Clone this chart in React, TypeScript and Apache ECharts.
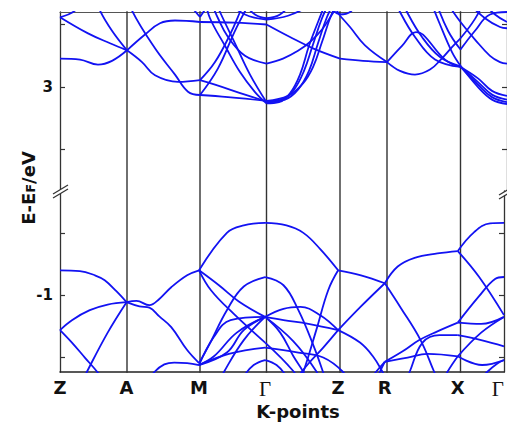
import React, { useEffect, useRef } from "react";
import * as echarts from "echarts";

// high-symmetry points (k-path distance) and labels
const kTicks = [0, 67, 140, 206.5, 280, 327, 400.5, 447];
const kLabels = ["Z", "A", "M", "Γ", "Z", "R", "X", "Γ"];

// axis ranges and ticks
const upperRange = [2.17, 3.6];
const lowerRange = [-1.616, -0.164];
const upperTicks = [2.5, 3, 3.5];
const upperLabels = [3];
const lowerTicks = [-1.5, -1, -0.5];
const lowerLabels = [-1];

// ---------- upper panel bands (conduction), [k, E] ----------
const up01 = [[0,3.228],[20,3.22],[38,3.18],[52,3.21],[67,3.294],[85,3.42],[100,3.51],[115,3.532],[140,3.52],[175,3.515],[206.5,3.50],[230,3.40],[253,3.31],[280,3.228],[303,3.21],[327,3.20],[342,3.33],[356,3.44],[363,3.42],[385,3.22],[400.5,3.161],[418,3.02],[432,2.92],[447,2.88]];
const up02 = [[0,3.558],[28,3.429],[50,3.35],[67,3.294],[82,3.20],[95,3.095],[118,3.042],[140,3.056],[155,3.02],[185,2.94],[206.5,2.885],[222,2.90],[234,2.98],[244,3.13],[253,3.34],[262,3.55],[271,3.7]];
const up03 = [[37,3.7],[40,3.611],[52,3.45],[67,3.294]];
const up04 = [[70,3.7],[72,3.611],[95,3.31],[115,3.10],[128,2.963],[140,2.937],[168,2.92],[206.5,2.89],[228,2.93],[243,3.03],[253,3.16],[262,3.36],[271,3.57],[279,3.7]];
const up05 = [[0,3.558],[15,3.611],[22,3.7]];
const up06 = [[140,3.056],[155,3.20],[170,3.42],[180,3.60],[185,3.7]];
const up07 = [[140,2.937],[158,3.15],[175,3.45],[188,3.65],[192,3.7]];
const up08 = [[145,3.7],[150,3.55],[165,3.33],[180,3.12],[195,2.96],[206.5,2.87],[219,2.88],[230,2.95],[240,3.10],[249,3.33],[258,3.52],[267,3.7]];
const up09 = [[155,3.7],[160,3.6],[175,3.35],[190,3.1],[206.5,2.88],[225,2.90],[238,2.98],[249,3.13],[258,3.35],[267,3.56],[276,3.7]];
const up10 = [[150,3.7],[158,3.55],[168,3.40],[185,3.25],[206.5,3.188],[223,3.228],[238,3.29],[250,3.36],[262,3.46],[272,3.58],[282,3.7]];
const up11 = [[180,3.7],[195,3.58],[206.5,3.55],[220,3.58],[235,3.7]];
const up12 = [[165,3.7],[185,3.58],[206.5,3.54],[228,3.57],[250,3.65],[262,3.7]];
const up13 = [[270,3.7],[280,3.57],[290,3.48],[305,3.333],[327,3.20],[340,3.13],[355,3.10],[370,3.14],[382,3.23],[392,3.32],[400.5,3.39],[415,3.545],[425,3.7]];
const up14 = [[335,3.7],[340,3.60],[355,3.40],[375,3.22],[400.5,3.161],[418,3.07],[432,2.97],[447,2.93]];
const up15 = [[342,3.7],[347,3.60],[362,3.40],[380,3.24],[400.5,3.165],[418,3.04],[432,2.94],[447,2.90]];
const up16 = [[370,3.7],[380,3.50],[392,3.28],[400.5,3.17],[418,3.00],[432,2.90],[447,2.865]];
const up17 = [[385,3.7],[395,3.58],[400.5,3.52],[415,3.38],[430,3.25],[440,3.20],[447,3.188]];
const up18 = [[375,3.7],[388,3.45],[400.5,3.30],[415,3.45],[430,3.58],[447,3.60]];
const up19 = [[420,3.7],[435,3.58],[447,3.52]];
const up20 = [[405,3.7],[425,3.55],[440,3.48],[447,3.47]];
const up21 = [[262,3.7],[275,3.6],[280,3.58],[290,3.6],[300,3.7]];
const up22 = [[125,3.7],[140,3.56],[152,3.7]];
const upperBands = [up01, up02, up03, up04, up05, up06, up07, up08, up09, up10, up11, up12, up13, up14, up15, up16, up17, up18, up19, up20, up21, up22];

// ---------- lower panel bands (valence), [k, E] ----------
const lo01 = [[0,-0.80],[20,-0.806],[35,-0.84],[45,-0.88],[57,-0.97],[67,-1.056],[77,-1.046],[90,-1.08],[100,-1.03],[112,-0.936],[128,-0.84],[140,-0.80],[168,-0.50],[185,-0.44],[206.5,-0.42],[228,-0.44],[245,-0.50],[262,-0.63],[280,-0.80],[303,-0.84],[327,-0.904],[343,-1.10],[363,-1.36],[377,-1.62],[385,-1.75]];
const lo02 = [[0,-1.28],[12,-1.20],[30,-1.12],[48,-1.075],[67,-1.056],[80,-1.09],[90,-1.10],[100,-1.17],[112,-1.256],[128,-1.44],[140,-1.544],[150,-1.40],[168,-1.12],[185,-0.93],[206.5,-0.854],[225,-0.92],[240,-1.12],[255,-1.40],[265,-1.62],[268,-1.7]];
const lo03 = [[0,-1.28],[12,-1.38],[25,-1.50],[38,-1.62],[45,-1.70]];
const lo04 = [[22,-1.70],[27,-1.616],[48,-1.30],[67,-1.056]];
const lo05 = [[88,-1.70],[95,-1.616],[105,-1.555],[115,-1.54],[128,-1.544],[140,-1.56],[170,-1.47],[206.5,-1.42],[240,-1.46],[265,-1.50],[285,-1.616],[290,-1.7]];
const lo06 = [[140,-0.80],[160,-0.92],[180,-1.05],[206.5,-1.174],[225,-1.11],[242,-1.094],[262,-1.16],[280,-1.28],[303,-1.09],[327,-0.904],[340,-0.77],[357,-0.70],[380,-0.665],[400.5,-0.646],[417,-0.494],[433,-0.424],[447,-0.42]];
const lo07 = [[140,-0.80],[152,-0.96],[175,-1.15],[206.5,-1.38],[235,-1.61],[240,-1.7]];
const lo08 = [[140,-1.56],[155,-1.334],[171.7,-1.2],[206.5,-1.174],[225,-1.20],[250,-1.23],[280,-1.28],[302,-1.38],[315,-1.49],[325,-1.62],[330,-1.7]];
const lo09 = [[140,-1.56],[155,-1.49],[178,-1.30],[206.5,-1.174],[221.7,-1.30],[235,-1.49],[245,-1.616],[250,-1.7]];
const lo10 = [[140,-1.56],[168,-1.46],[185,-1.28],[206.5,-1.174],[235,-1.37],[258,-1.61],[262,-1.7]];
const lo11 = [[160,-1.70],[165,-1.616],[185,-1.36],[206.5,-1.174]];
const lo12 = [[240,-1.7],[245,-1.616],[258,-1.28],[270,-0.96],[280,-0.80]];
const lo13 = [[240,-1.65],[250,-1.55],[265,-1.42],[280,-1.28]];
const lo14 = [[185,-1.65],[195,-1.56],[206.5,-1.52],[218,-1.56],[228,-1.65]];
const lo15 = [[318,-1.70],[322,-1.616],[327,-1.534],[345,-1.45],[361.7,-1.36],[380,-1.29],[400.5,-1.22],[421.7,-1.01],[438,-0.87],[447,-0.854]];
const lo16 = [[310,-1.70],[318,-1.616],[327,-1.534],[350,-1.50],[370,-1.47],[400.5,-1.49],[424,-1.30],[447,-1.174]];
const lo17 = [[348,-1.70],[352,-1.616],[365,-1.38],[382,-1.32],[400.5,-1.32],[424,-1.36],[447,-1.41]];
const lo18 = [[400.5,-0.646],[422,-0.854],[447,-1.16]];
const lo19 = [[400.5,-1.22],[424,-1.23],[447,-1.174]];
const lo20 = [[420,-1.70],[430,-1.616],[440,-1.55],[447,-1.52]];
const lo21 = [[385,-1.70],[390,-1.616],[400.5,-1.49],[425,-1.56],[447,-1.52]];
const lowerBands = [lo01, lo02, lo03, lo04, lo05, lo06, lo07, lo08, lo09, lo10, lo11, lo12, lo13, lo14, lo15, lo16, lo17, lo18, lo19, lo20, lo21];

const BLUE = "#1212f2";
const FRAME = "#333";
const FONT = "DejaVu Sans";

// split a band at interior high-symmetry points so each k-path segment is smoothed on its own
function splitAtNodes(band: number[][]): number[][][] {
  const segs: number[][][] = [];
  let cur: number[][] = [];
  band.forEach((p, i) => {
    cur.push(p);
    if (i > 0 && i < band.length - 1 && kTicks.includes(p[0])) {
      segs.push(cur);
      cur = [p];
    }
  });
  if (cur.length > 1) segs.push(cur);
  return segs;
}

function bandSeries(bands: number[][][], xi: number, yi: number) {
  const out: any[] = [];
  bands.forEach((b) => {
    splitAtNodes(b).forEach((seg) => {
      out.push({
        type: "line", xAxisIndex: xi, yAxisIndex: yi, data: seg,
        smooth: 0.4, symbol: "none", silent: true, clip: true, z: 3,
        lineStyle: { color: BLUE, width: 1.8 },
      });
    });
  });
  return out;
}

// vertical separators at interior high-symmetry points, drawn in a full-height overlay grid
function vlineSeries() {
  return kTicks.slice(1, -1).map((k) => ({
    type: "line", xAxisIndex: 2, yAxisIndex: 4, silent: true, clip: true, z: 1,
    symbol: "none",
    data: [[k, -0.1], [k, 1.1]],
    lineStyle: { color: FRAME, width: 1.4 },
  }));
}

const tickLabelStyle = { fontFamily: FONT, fontWeight: "bold", fontSize: 15, color: "#111", margin: 7 };

function yAxes(gridIndex: number, range: number[], ticks: number[], labels: number[]) {
  const common = {
    gridIndex, type: "value", min: range[0], max: range[1],
    splitLine: { show: false },
    axisLine: { show: true, onZero: false, lineStyle: { color: FRAME, width: 1.3 } },
    axisTick: { show: true, inside: true, length: 5, customValues: ticks, lineStyle: { color: FRAME, width: 1.2 } },
  };
  return [
    { ...common, position: "left", axisLabel: { show: true, customValues: labels, ...tickLabelStyle } },
    { ...common, position: "right", axisLabel: { show: false } },
  ];
}

function breakMark(x: number, y: number) {
  return [
    { type: "polygon", shape: { points: [[x, y + 4], [x + 15, y - 5], [x + 15, y - 1], [x, y + 8]] }, style: { fill: "#fff" }, z: 100 },
    { type: "line", shape: { x1: x, y1: y + 4, x2: x + 15, y2: y - 5 }, style: { stroke: FRAME, lineWidth: 1.3 }, z: 101 },
    { type: "line", shape: { x1: x, y1: y + 8, x2: x + 15, y2: y - 1 }, style: { stroke: FRAME, lineWidth: 1.3 }, z: 101 },
  ];
}

const hidden = { show: false };

export default function App() {
  const ref = useRef<HTMLDivElement>(null);
  useEffect(() => {
    if (!ref.current) return;
    const chart = echarts.init(ref.current, undefined, { renderer: "svg" });
    const option: any = {
      animation: false,
      backgroundColor: "#fff",
      grid: [
        { left: 60, right: 0, top: 12, height: 179 },
        { left: 60, right: 0, top: 191, height: 181 },
        { left: 60, right: 0, top: 12, height: 360 },
      ],
      xAxis: [
        {
          gridIndex: 0, type: "value", min: 0, max: 447, position: "top",
          axisLine: { show: true, onZero: false, lineStyle: { color: "#555", width: 1.2 } },
          axisTick: hidden, axisLabel: hidden, splitLine: hidden,
        },
        {
          gridIndex: 1, type: "value", min: 0, max: 447, position: "bottom",
          axisLine: { show: true, onZero: false, lineStyle: { color: "#222", width: 1.5 } },
          axisTick: hidden, splitLine: hidden,
          axisLabel: {
            show: true,
            customValues: kTicks,
            alignMaxLabel: "right",
            margin: 6,
            fontFamily: FONT, fontWeight: "bold", fontSize: 18, color: "#111",
            formatter: (v: number) => {
              const s = kLabels[kTicks.indexOf(v)] ?? "";
              return s === "Γ" ? "{g|Γ}" : s;
            },
            rich: { g: { fontFamily: "Liberation Serif", fontWeight: "normal", fontSize: 21, color: "#111" } },
          },
        },
        { gridIndex: 2, type: "value", min: 0, max: 447, show: false },
      ],
      yAxis: [
        ...yAxes(0, upperRange, upperTicks, upperLabels),
        ...yAxes(1, lowerRange, lowerTicks, lowerLabels),
        { gridIndex: 2, type: "value", min: 0, max: 1, show: false },
      ],
      graphic: [
        {
          type: "text", x: 26, y: 188, rotation: Math.PI / 2, z: 100,
          style: {
            text: "{m|E-E}{s|F}{m|/eV}",
            align: "center", verticalAlign: "middle",
            rich: {
              m: { fontFamily: FONT, fontWeight: "bold", fontSize: 18, fill: "#111", lineHeight: 22, verticalAlign: "bottom" },
              s: { fontFamily: FONT, fontWeight: "bold", fontSize: 13, fill: "#111", lineHeight: 22, verticalAlign: "bottom", padding: [6, 0, 0, 0] },
            },
          },
        },
        {
          type: "text", x: 298, y: 411, z: 100,
          style: { text: "K-points", align: "center", verticalAlign: "middle", fontFamily: FONT, fontWeight: "bold", fontSize: 18, fill: "#111" },
        },
        ...breakMark(53, 190),
        ...breakMark(499, 191),
      ],
      series: [
        ...vlineSeries(),
        ...bandSeries(upperBands, 0, 0),
        ...bandSeries(lowerBands, 1, 2),
      ],
    };
    chart.setOption(option);
    return () => chart.dispose();
  }, []);
  return <div ref={ref} style={{ position: "fixed", left: 0, top: 0, width: 507, height: 426, background: "#fff" }} />;
}
